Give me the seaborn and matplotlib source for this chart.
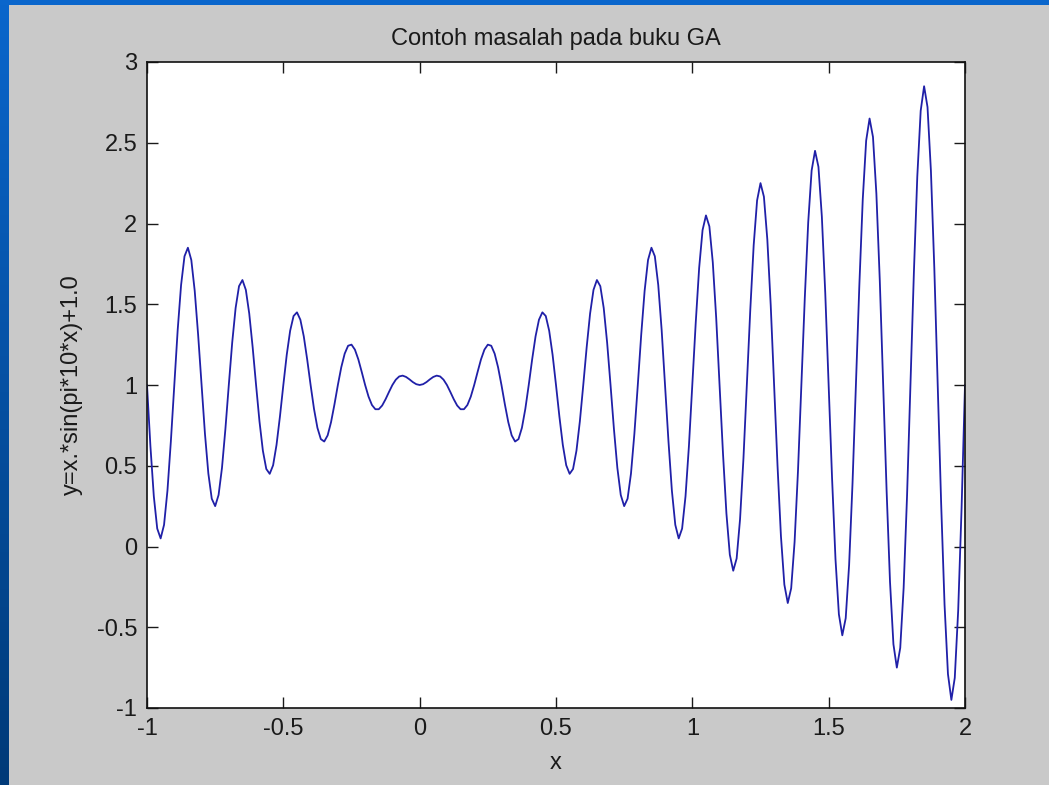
import numpy as np
import pandas as pd
import seaborn as sns
import matplotlib.pyplot as plt
from matplotlib.colors import LinearSegmentedColormap

# sample points of the curve
x_vals = [
    -1.0, -0.9875, -0.975, -0.9625, -0.95, -0.9375, -0.925, -0.9125,
    -0.9, -0.8875, -0.875, -0.8625, -0.85, -0.8375, -0.825, -0.8125,
    -0.8, -0.7875, -0.775, -0.7625, -0.75, -0.7375, -0.725, -0.7125,
    -0.7, -0.6875, -0.675, -0.6625, -0.65, -0.6375, -0.625, -0.6125,
    -0.6, -0.5875, -0.575, -0.5625, -0.55, -0.5375, -0.525, -0.5125,
    -0.5, -0.4875, -0.475, -0.4625, -0.45, -0.4375, -0.425, -0.4125,
    -0.4, -0.3875, -0.375, -0.3625, -0.35, -0.3375, -0.325, -0.3125,
    -0.3, -0.2875, -0.275, -0.2625, -0.25, -0.2375, -0.225, -0.2125,
    -0.2, -0.1875, -0.175, -0.1625, -0.15, -0.1375, -0.125, -0.1125,
    -0.1, -0.0875, -0.075, -0.0625, -0.05, -0.0375, -0.025, -0.0125,
    0.0, 0.0125, 0.025, 0.0375, 0.05, 0.0625, 0.075, 0.0875,
    0.1, 0.1125, 0.125, 0.1375, 0.15, 0.1625, 0.175, 0.1875,
    0.2, 0.2125, 0.225, 0.2375, 0.25, 0.2625, 0.275, 0.2875,
    0.3, 0.3125, 0.325, 0.3375, 0.35, 0.3625, 0.375, 0.3875,
    0.4, 0.4125, 0.425, 0.4375, 0.45, 0.4625, 0.475, 0.4875,
    0.5, 0.5125, 0.525, 0.5375, 0.55, 0.5625, 0.575, 0.5875,
    0.6, 0.6125, 0.625, 0.6375, 0.65, 0.6625, 0.675, 0.6875,
    0.7, 0.7125, 0.725, 0.7375, 0.75, 0.7625, 0.775, 0.7875,
    0.8, 0.8125, 0.825, 0.8375, 0.85, 0.8625, 0.875, 0.8875,
    0.9, 0.9125, 0.925, 0.9375, 0.95, 0.9625, 0.975, 0.9875,
    1.0, 1.0125, 1.025, 1.0375, 1.05, 1.0625, 1.075, 1.0875,
    1.1, 1.1125, 1.125, 1.1375, 1.15, 1.1625, 1.175, 1.1875,
    1.2, 1.2125, 1.225, 1.2375, 1.25, 1.2625, 1.275, 1.2875,
    1.3, 1.3125, 1.325, 1.3375, 1.35, 1.3625, 1.375, 1.3875,
    1.4, 1.4125, 1.425, 1.4375, 1.45, 1.4625, 1.475, 1.4875,
    1.5, 1.5125, 1.525, 1.5375, 1.55, 1.5625, 1.575, 1.5875,
    1.6, 1.6125, 1.625, 1.6375, 1.65, 1.6625, 1.675, 1.6875,
    1.7, 1.7125, 1.725, 1.7375, 1.75, 1.7625, 1.775, 1.7875,
    1.8, 1.8125, 1.825, 1.8375, 1.85, 1.8625, 1.875, 1.8875,
    1.9, 1.9125, 1.925, 1.9375, 1.95, 1.9625, 1.975, 1.9875,
    2.0,
]

y_vals = [
    1.000, 0.622, 0.311, 0.111, 0.050, 0.134, 0.346, 0.651,
    1.000, 1.340, 1.619, 1.797, 1.850, 1.774, 1.583, 1.311,
    1.000, 0.699, 0.452, 0.296, 0.250, 0.319, 0.487, 0.727,
    1.000, 1.263, 1.477, 1.612, 1.650, 1.589, 1.442, 1.234,
    1.000, 0.775, 0.593, 0.480, 0.450, 0.503, 0.629, 0.804,
    1.000, 1.187, 1.336, 1.427, 1.450, 1.404, 1.301, 1.158,
    1.000, 0.852, 0.735, 0.665, 0.650, 0.688, 0.770, 0.880,
    1.000, 1.110, 1.194, 1.243, 1.250, 1.219, 1.159, 1.081,
    1.000, 0.928, 0.876, 0.850, 0.850, 0.873, 0.912, 0.957,
    1.000, 1.033, 1.053, 1.058, 1.050, 1.035, 1.018, 1.005,
    1.000, 1.005, 1.018, 1.035, 1.050, 1.058, 1.053, 1.033,
    1.000, 0.957, 0.912, 0.873, 0.850, 0.850, 0.876, 0.928,
    1.000, 1.081, 1.159, 1.219, 1.250, 1.243, 1.194, 1.110,
    1.000, 0.880, 0.770, 0.688, 0.650, 0.665, 0.735, 0.852,
    1.000, 1.158, 1.301, 1.404, 1.450, 1.427, 1.336, 1.187,
    1.000, 0.804, 0.629, 0.503, 0.450, 0.480, 0.593, 0.775,
    1.000, 1.234, 1.442, 1.589, 1.650, 1.612, 1.477, 1.263,
    1.000, 0.727, 0.487, 0.319, 0.250, 0.296, 0.452, 0.699,
    1.000, 1.311, 1.583, 1.774, 1.850, 1.797, 1.619, 1.340,
    1.000, 0.651, 0.346, 0.134, 0.050, 0.111, 0.311, 0.622,
    1.000, 1.387, 1.725, 1.959, 2.050, 1.982, 1.760, 1.416,
    1.000, 0.574, 0.205, -0.051, -0.150, -0.074, 0.169, 0.546,
    1.000, 1.464, 1.866, 2.143, 2.250, 2.166, 1.902, 1.493,
    1.000, 0.498, 0.063, -0.236, -0.350, -0.259, 0.028, 0.469,
    1.000, 1.541, 2.008, 2.328, 2.450, 2.351, 2.043, 1.569,
    1.000, 0.421, -0.078, -0.420, -0.550, -0.444, -0.114, 0.392,
    1.000, 1.617, 2.149, 2.513, 2.650, 2.536, 2.184, 1.646,
    1.000, 0.345, -0.220, -0.605, -0.750, -0.628, -0.255, 0.316,
    1.000, 1.694, 2.290, 2.698, 2.850, 2.721, 2.326, 1.722,
    1.000, 0.268, -0.361, -0.790, -0.950, -0.813, -0.397, 0.239,
    1.000,
]

x_ticks = [-1, -0.5, 0, 0.5, 1, 1.5, 2]
x_ticklabels = ["-1", "-0.5", "0", "0.5", "1", "1.5", "2"]
y_ticks = [-1, -0.5, 0, 0.5, 1, 1.5, 2, 2.5, 3]
y_ticklabels = ["-1", "-0.5", "0", "0.5", "1", "1.5", "2", "2.5", "3"]

df = pd.DataFrame({"x": x_vals, "y": y_vals})

sns.set_style("ticks")
plt.rcParams["font.family"] = ["Liberation Sans", "DejaVu Sans"]
text_col = "#1a1a1a"

fig = plt.figure(figsize=(10.49, 7.85), dpi=100, facecolor="#c9c9c9")

# blue slide border (left gradient strip + thin top strip)
strip = fig.add_axes([0, 0, 9 / 1049, 1])
grad = np.linspace(0, 1, 256).reshape(-1, 1)
cmap = LinearSegmentedColormap.from_list("slide", ["#0a66cc", "#003a78"])
strip.imshow(grad, aspect="auto", cmap=cmap, extent=[0, 1, 0, 1], origin="upper")
strip.axis("off")
top = fig.add_axes([0, 1 - 5 / 785, 1, 5 / 785])
top.set_facecolor("#0a66cc")
top.set_xticks([])
top.set_yticks([])
for s in top.spines.values():
    s.set_visible(False)

ax = fig.add_axes([147 / 1049, 1 - 708 / 785, (965 - 147) / 1049, (708 - 62) / 785])
ax.set_facecolor("white")

sns.lineplot(data=df, x="x", y="y", ax=ax, color="#2020a8", linewidth=1.3,
             sort=False, estimator=None)

ax.set_xlim(-1, 2)
ax.set_ylim(-1, 3)
ax.set_xticks(x_ticks)
ax.set_xticklabels(x_ticklabels)
ax.set_yticks(y_ticks)
ax.set_yticklabels(y_ticklabels)

ax.tick_params(direction="in", length=8, width=1, top=True, right=True,
               labelsize=17, colors=text_col, pad=7)
for s in ax.spines.values():
    s.set_visible(True)
    s.set_color("#111111")
    s.set_linewidth(1.2)

ax.set_title("Contoh masalah pada buku GA", fontsize=17, color=text_col, pad=12)
ax.set_xlabel("x", fontsize=17, color=text_col, labelpad=9)
ax.set_ylabel("y=x.*sin(pi*10*x)+1.0", fontsize=17, color=text_col, labelpad=10)

fig.savefig("out.png", dpi=100, facecolor=fig.get_facecolor())
